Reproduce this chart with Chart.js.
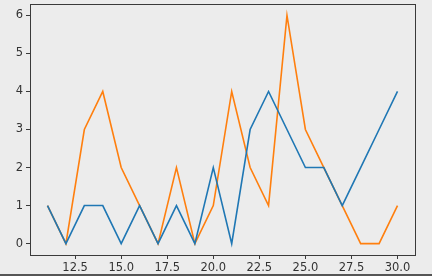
<!DOCTYPE html>
<html>
<head>
<meta charset="utf-8">
<script src="https://cdn.jsdelivr.net/npm/chart.js@4/dist/chart.umd.min.js"></script>
<style>
html,body{margin:0;padding:0;background:#ececec;}
#wrap{width:432px;height:276px;position:relative;}
</style>
</head>
<body>
<div id="wrap"><canvas id="c" width="432" height="276"></canvas></div>
<script>
const xValues = [11,12,13,14,15,16,17,18,19,20,21,22,23,24,25,26,27,28,29,30];
const blueValues = [1,0,1,1,0,1,0,1,0,2,0,3,4,3,2,2,1,2,3,4];
const orangeValues = [1,0,3,4,2,1,0,2,0,1,4,2,1,6,3,2,1,0,0,1];
const xTicks = [12.5,15.0,17.5,20.0,22.5,25.0,27.5,30.0];
const yTicks = [0,1,2,3,4,5,6];

const toPts = vals => xValues.map((x,i)=>({x:x,y:vals[i]}));

const framePlugin = {
  id:'frame',
  beforeDraw(chart){
    const c = chart.ctx;
    c.save();
    c.fillStyle = '#ececec';
    c.fillRect(0,0,chart.width,chart.height);
    c.restore();
  },
  afterDraw(chart){
    const a = chart.chartArea, c = chart.ctx;
    c.save();
    c.strokeStyle = '#3a3a3a';
    c.lineWidth = 1;
    c.strokeRect(Math.round(a.left)+0.5, Math.round(a.top)+0.5, Math.round(a.right-a.left), Math.round(a.bottom-a.top));
    c.strokeStyle = '#555';
    c.lineWidth = 2;
    c.beginPath(); c.moveTo(0,275); c.lineTo(chart.width,275); c.stroke();
    c.restore();
  }
};

new Chart(document.getElementById('c'), {
  type:'line',
  data:{
    datasets:[
      {data:toPts(blueValues), borderColor:'#1f77b4', borderWidth:1.6, pointRadius:0, tension:0, fill:false},
      {data:toPts(orangeValues), borderColor:'#ff7f0e', borderWidth:1.6, pointRadius:0, tension:0, fill:false}
    ]
  },
  options:{
    responsive:false,
    animation:false,
    devicePixelRatio:1,
    layout:{padding:{left:0,top:4,right:17,bottom:0}},
    plugins:{legend:{display:false},tooltip:{enabled:false}},
    scales:{
      x:{
        type:'linear', min:10.05, max:30.95,
        afterBuildTicks(s){ s.ticks = xTicks.map(v=>({value:v})); },
        afterFit(s){ s.height = 21; s.paddingLeft = 0; s.paddingRight = 0; },
        ticks:{ color:'#333', font:{family:'DejaVu Sans', size:11.5}, padding:2, maxRotation:0, autoSkip:false,
          callback:v=>Number(v).toFixed(1) },
        grid:{ drawOnChartArea:false, tickLength:4, tickColor:'#3a3a3a', tickWidth:1 },
        border:{ display:true, color:'#3a3a3a' }
      },
      y:{
        type:'linear', min:-0.3, max:6.3,
        afterBuildTicks(s){ s.ticks = yTicks.map(v=>({value:v})); },
        afterFit(s){ s.width = 30; s.paddingTop = 0; s.paddingBottom = 0; },
        ticks:{ color:'#333', font:{family:'DejaVu Sans', size:11.5}, padding:3,
          callback:v=>String(v) },
        grid:{ drawOnChartArea:false, tickLength:4, tickColor:'#3a3a3a', tickWidth:1 },
        border:{ display:true, color:'#3a3a3a' }
      }
    }
  },
  plugins:[framePlugin]
});
</script>
</body>
</html>
